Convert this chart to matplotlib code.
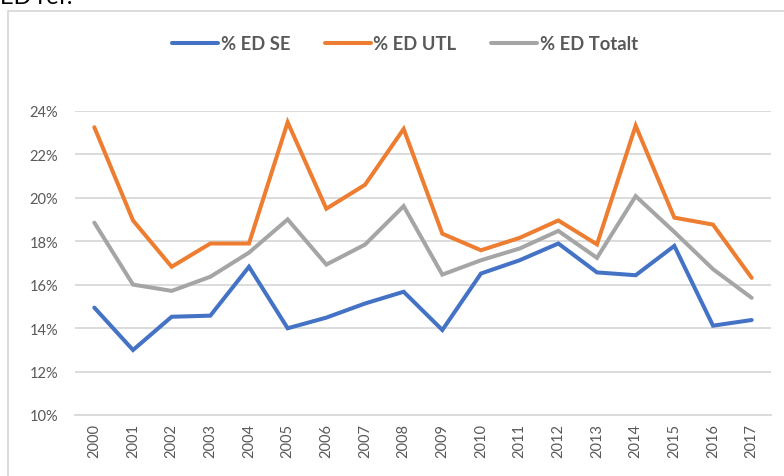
import matplotlib
matplotlib.use("Agg")
import matplotlib.pyplot as plt
from matplotlib.patches import Rectangle
from matplotlib.ticker import FuncFormatter

years = [str(y) for y in range(2000, 2018)]
ed_se = [14.94, 12.99, 14.52, 14.57, 16.82, 13.99, 14.48, 15.13, 15.67,
         13.91, 16.51, 17.12, 17.89, 16.56, 16.43, 17.78, 14.11, 14.37]
ed_utl = [23.24, 18.95, 16.82, 17.89, 17.89, 23.47, 19.49, 20.59, 23.16,
          18.34, 17.58, 18.15, 18.95, 17.85, 23.31, 19.08, 18.76, 16.31]
ed_tot = [18.85, 16.00, 15.71, 16.36, 17.47, 19.00, 16.92, 17.84, 19.61,
          16.46, 17.12, 17.66, 18.47, 17.23, 20.07, 18.42, 16.71, 15.39]
series_names = ["% ED SE", "% ED UTL", "% ED Totalt"]
y_ticks = [10, 12, 14, 16, 18, 20, 22, 24]

plt.rcParams['font.family'] = ['Lato', 'DejaVu Sans']

W, H = 784, 477
fig = plt.figure(figsize=(W / 100, H / 100), dpi=100)
ax = fig.add_axes([75 / W, 1 - 416 / H, (771 - 75) / W, (416 - 111.7) / H])

colors = ["#4472C4", "#ED7D31", "#A5A5A5"]
x = list(range(len(years)))
for vals, name, c in zip([ed_se, ed_utl, ed_tot], series_names, colors):
    ax.plot(x, vals, color=c, lw=2.9, label=name, solid_capstyle='round',
            solid_joinstyle='miter', zorder=3)

ax.set_xlim(-0.5, len(years) - 0.5)
ax.set_ylim(10, 24)
ax.set_yticks(y_ticks)
ax.yaxis.set_major_formatter(FuncFormatter(lambda v, p: f"{int(v)}%"))
ax.set_xticks(x)
ax.set_xticklabels(years, rotation=90)
ax.tick_params(axis='both', length=0, labelsize=10.5, colors="#595959")
ax.tick_params(axis='y', pad=12)
ax.tick_params(axis='x', pad=6)
ax.grid(axis='y', color="#D9D9D9", lw=1.3, zorder=0)
for s in ['top', 'right', 'left']:
    ax.spines[s].set_visible(False)
ax.spines['bottom'].set_color("#D9D9D9")
ax.spines['bottom'].set_linewidth(1.3)
ax.set_axisbelow(True)

leg = fig.legend(loc='center', bbox_to_anchor=(405 / W, 1 - 45 / H), ncol=3,
                 frameon=False, handlelength=2.5, handletextpad=0.15,
                 columnspacing=1.9, prop={'size': 13.2, 'weight': 'bold'})
for t in leg.get_texts():
    t.set_color("#595959")

# outer chart border
fig.patches.append(Rectangle((8 / W, -0.05), 1.2, 1.05 - 12 / H,
                             transform=fig.transFigure, fill=False,
                             edgecolor="#D9D9D9", lw=1.3))
# cropped title (cut off at the top edge, as in the reference)
fig.text(0 / W, 1 - 4 / H, "ED ref.", fontsize=17, color="#000000",
         va='baseline', ha='left')

fig.savefig("out.png", dpi=100)
